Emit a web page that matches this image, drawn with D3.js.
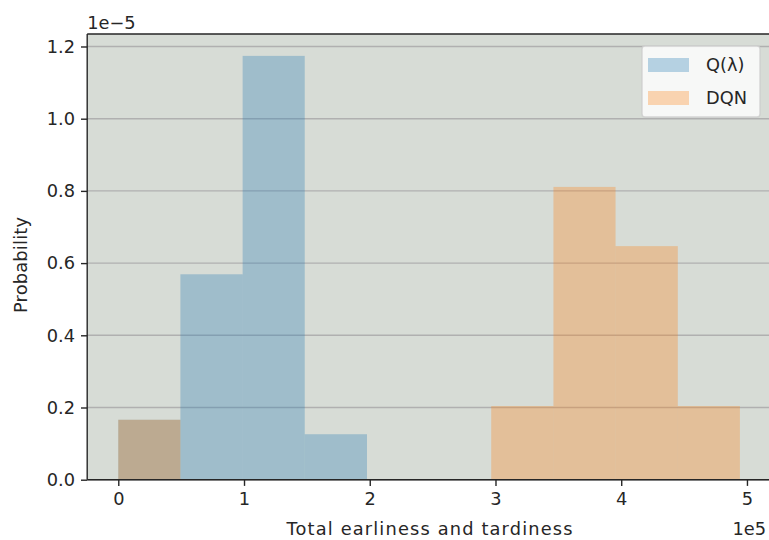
<!DOCTYPE html>
<html>
<head>
<meta charset="utf-8">
<script src="https://cdn.jsdelivr.net/npm/d3@7"></script>
<style>
  html, body { margin: 0; padding: 0; background: #ffffff; }
  svg { display: block; font-family: "DejaVu Sans", sans-serif; }
</style>
</head>
<body>
<svg id="chart" width="769" height="540"></svg>
<script>
// Data (x in units of 1e5, y in units of 1e-5)
const binEdges = [0, 0.494, 0.989, 1.483, 1.978, 2.472, 2.966, 3.461, 3.955, 4.450, 4.944];
const seriesNames = ["Q(\u03bb)", "DQN"];
const qLambdaValues = [0.166, 0.569, 1.174, 0.126, 0, 0, 0, 0, 0, 0];
const dqnValues = [0.166, 0, 0, 0, 0, 0, 0.204, 0.811, 0.647, 0.204];
const seriesColors = ["#1f77b4", "#ff7f0e"];
const xTicks = [0, 1, 2, 3, 4, 5];
const yTicks = [0.0, 0.2, 0.4, 0.6, 0.8, 1.0, 1.2];
const xLabel = "Total earliness and tardiness";
const yLabel = "Probability";
const xOffsetText = "1e5";
const yOffsetText = "1e\u22125";

const svg = d3.select("#chart");
const pL = 87.2, pR = 771, pT = 34, pB = 479.7;
const fs = 17.8;

const x = d3.scaleLinear().domain([-0.2472, 5.1912]).range([pL, pR]);
const y = d3.scaleLinear().domain([0, 1.2346]).range([pB, pT]);

// axes background
svg.append("rect")
  .attr("x", pL).attr("y", pT)
  .attr("width", pR - pL).attr("height", pB - pT)
  .attr("fill", "#d7dcd6");

// horizontal grid
svg.append("g").selectAll("line").data(yTicks).join("line")
  .attr("x1", pL).attr("x2", pR)
  .attr("y1", d => y(d)).attr("y2", d => y(d))
  .attr("stroke", "#b0b0b0").attr("stroke-width", 1.4);

// bars
const series = [qLambdaValues, dqnValues];
series.forEach((vals, si) => {
  const bins = vals.map((v, i) => ({x0: binEdges[i], x1: binEdges[i + 1], v}));
  svg.append("g").selectAll("rect").data(bins.filter(b => b.v > 0)).join("rect")
    .attr("x", d => x(d.x0))
    .attr("width", d => x(d.x1) - x(d.x0))
    .attr("y", d => y(d.v))
    .attr("height", d => y(0) - y(d.v))
    .attr("fill", seriesColors[si])
    .attr("fill-opacity", 0.3);
});

// axes
const xAxis = d3.axisBottom(x).tickValues(xTicks).tickFormat(d3.format("d"))
  .tickSize(6.2).tickPadding(6);
const gx = svg.append("g").attr("transform", `translate(0,${pB})`).call(xAxis);
const yAxis = d3.axisLeft(y).tickValues(yTicks).tickFormat(d3.format(".1f"))
  .tickSize(6.2).tickPadding(6);
const gy = svg.append("g").attr("transform", `translate(${pL},0)`).call(yAxis);
[gx, gy].forEach(g => {
  g.select(".domain").remove();
  g.selectAll("line").attr("stroke", "#262626").attr("stroke-width", 1.4);
  g.selectAll("text").attr("fill", "#262626").attr("font-size", fs)
    .attr("font-family", "DejaVu Sans, sans-serif");
});

// spines
const spine = (x1, y1, x2, y2) => svg.append("line")
  .attr("x1", x1).attr("y1", y1).attr("x2", x2).attr("y2", y2)
  .attr("stroke", "#262626").attr("stroke-width", 1.4);
spine(pL, pT, pL, pB);
spine(pL, pB, pR, pB);
spine(pL, pT, pR, pT);
spine(pR, pT, pR, pB);

// labels
svg.append("text")
  .attr("x", 429.5).attr("y", 535)
  .attr("text-anchor", "middle").attr("font-size", fs).attr("fill", "#262626")
  .attr("textLength", 286).attr("lengthAdjust", "spacing")
  .text(xLabel);
svg.append("text")
  .attr("transform", `translate(27,265) rotate(-90)`)
  .attr("text-anchor", "middle").attr("font-size", fs).attr("fill", "#262626")
  .attr("textLength", 96).attr("lengthAdjust", "spacing")
  .text(yLabel);
svg.append("text")
  .attr("x", 766).attr("y", 535)
  .attr("text-anchor", "end").attr("font-size", fs).attr("fill", "#262626")
  .text(xOffsetText);
svg.append("text")
  .attr("x", pL).attr("y", 29)
  .attr("text-anchor", "start").attr("font-size", fs).attr("fill", "#262626")
  .text(yOffsetText);

// legend
const lg = svg.append("g");
lg.append("rect")
  .attr("x", 642).attr("y", 46).attr("width", 118).attr("height", 71)
  .attr("rx", 3).attr("fill", "#ffffff").attr("fill-opacity", 0.8)
  .attr("stroke", "#cccccc").attr("stroke-opacity", 0.8).attr("stroke-width", 1.4);
seriesNames.forEach((name, i) => {
  const cy = 65 + i * 33;
  lg.append("rect")
    .attr("x", 648).attr("y", cy - 7).attr("width", 41).attr("height", 14)
    .attr("fill", seriesColors[i]).attr("fill-opacity", 0.3);
  lg.append("text")
    .attr("x", 706).attr("y", cy).attr("dy", "0.36em")
    .attr("font-size", fs).attr("fill", "#262626")
    .text(name);
});
</script>
</body>
</html>
